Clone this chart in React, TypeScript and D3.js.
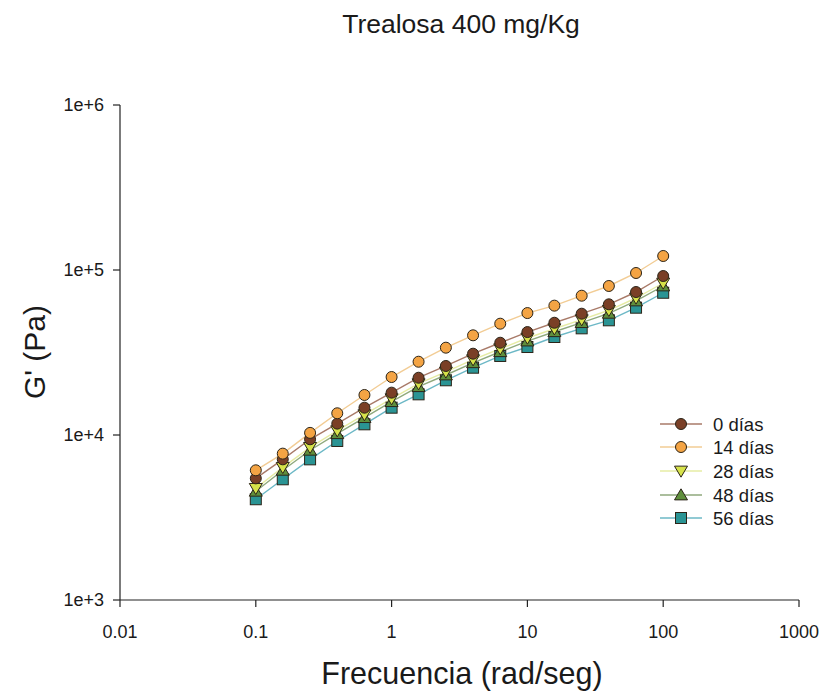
import React from "react";
import * as d3 from "d3";

const freqs = [0.1, 0.158, 0.251, 0.398, 0.631, 1, 1.58, 2.51, 3.98, 6.31, 10, 15.8, 25.1, 39.8, 63.1, 100];

const dias0 = [5460, 7120, 9420, 11720, 14640, 18060, 22240, 26200, 31100, 36240, 42060, 47900, 54350, 61950, 73560, 91950];
const dias14 = [6110, 7710, 10300, 13540, 17480, 22460, 27800, 33820, 40200, 47270, 54830, 60800, 69850, 80000, 95900, 121600];
const dias28 = [4750, 6370, 8420, 10620, 13280, 16600, 20460, 24100, 28600, 33330, 38700, 44060, 50000, 57000, 67650, 83400];
const dias48 = [4560, 6110, 8080, 10180, 12740, 15920, 19620, 23100, 27400, 31960, 37100, 42250, 47950, 54650, 64900, 80000];
const dias56 = [4080, 5390, 7120, 9200, 11610, 14640, 17640, 21460, 25580, 30130, 34140, 39260, 44310, 49560, 59100, 72800];

const seriesNames = ["0 días", "14 días", "28 días", "48 días", "56 días"];
const xTicks = [0.01, 0.1, 1, 10, 100, 1000];
const xTickLabels = ["0.01", "0.1", "1", "10", "100", "1000"];
const yTicks = [1e3, 1e4, 1e5, 1e6];
const yTickLabels = ["1e+3", "1e+4", "1e+5", "1e+6"];

const FONT = "'Liberation Sans', Arial, Helvetica, sans-serif";

type Shape = "circle" | "down" | "up" | "square";

const styles: { shape: Shape; fill: string; line: string }[] = [
  { shape: "circle", fill: "#7a3f26", line: "#a87a68" },
  { shape: "circle", fill: "#f4a444", line: "#f2cc94" },
  { shape: "down", fill: "#d6e24a", line: "#e6eca4" },
  { shape: "up", fill: "#5f8f3c", line: "#8fa97c" },
  { shape: "square", fill: "#2a9494", line: "#6cb8c6" },
];

function Marker({ shape, fill, x, y }: { shape: Shape; fill: string; x: number; y: number }) {
  const stroke = "#2b2418";
  const sw = 1;
  if (shape === "circle") return <circle cx={x} cy={y} r={5.5} fill={fill} stroke={stroke} strokeWidth={sw} />;
  if (shape === "square") return <rect x={x - 5.5} y={y - 5.5} width={11} height={11} fill={fill} stroke={stroke} strokeWidth={sw} />;
  const s = 6.5;
  const pts =
    shape === "down"
      ? [[x - s, y - s * 0.75], [x + s, y - s * 0.75], [x, y + s * 0.95]]
      : [[x - s, y + s * 0.75], [x + s, y + s * 0.75], [x, y - s * 0.95]];
  return <polygon points={pts.map((p) => p.join(",")).join(" ")} fill={fill} stroke={stroke} strokeWidth={sw} />;
}

export default function App() {
  const W = 826;
  const H = 696;
  const x = d3.scaleLog().domain([0.01, 1000]).range([120, 799]);
  const y = d3.scaleLog().domain([1e3, 1e6]).range([600, 105]);
  const data = [dias0, dias14, dias28, dias48, dias56];
  const line = d3
    .line<number>()
    .x((_, i) => x(freqs[i]))
    .y((d) => y(d));
  const drawOrder = [4, 3, 2, 0, 1];
  const legendY = [424, 447, 471, 495, 518];

  return (
    <svg width={W} height={H} style={{ display: "block", position: "absolute", left: 0, top: 0, background: "#fff" }}>
      <rect width={W} height={H} fill="#fff" />
      <text x={461} y={33} textAnchor="middle" fontFamily={FONT} fontSize={26.5} fill="#1a1a1a">
        Trealosa 400 mg/Kg
      </text>

      {/* axes */}
      <line x1={120} y1={105} x2={120} y2={600} stroke="#222" strokeWidth={1.2} />
      <line x1={120} y1={600} x2={799} y2={600} stroke="#222" strokeWidth={1.2} />
      {yTicks.map((t, i) => (
        <g key={"y" + i}>
          <line x1={113} x2={120} y1={y(t)} y2={y(t)} stroke="#222" strokeWidth={1.2} />
          <text x={104} y={y(t) + 6} textAnchor="end" fontFamily={FONT} fontSize={18} fill="#1a1a1a">
            {yTickLabels[i]}
          </text>
        </g>
      ))}
      {xTicks.map((t, i) => (
        <g key={"x" + i}>
          <line x1={x(t)} x2={x(t)} y1={600} y2={607} stroke="#222" strokeWidth={1.2} />
          <text x={x(t)} y={638} textAnchor="middle" fontFamily={FONT} fontSize={18} fill="#1a1a1a">
            {xTickLabels[i]}
          </text>
        </g>
      ))}
      <text x={462} y={684} textAnchor="middle" fontFamily={FONT} fontSize={30.5} fill="#1a1a1a">
        Frecuencia (rad/seg)
      </text>
      <text
        transform={`translate(45,352) rotate(-90)`}
        textAnchor="middle"
        fontFamily={FONT}
        fontSize={30}
        fill="#1a1a1a"
      >
        G' (Pa)
      </text>

      {/* lines */}
      {drawOrder.map((si) => (
        <path key={"l" + si} d={line(data[si]) || ""} fill="none" stroke={styles[si].line} strokeWidth={1.4} />
      ))}
      {/* markers */}
      {drawOrder.map((si) => (
        <g key={"m" + si}>
          {data[si].map((v, i) => (
            <Marker key={i} shape={styles[si].shape} fill={styles[si].fill} x={x(freqs[i])} y={y(v)} />
          ))}
        </g>
      ))}

      {/* legend */}
      {seriesNames.map((name, i) => (
        <g key={"lg" + i}>
          <line x1={660} x2={702} y1={legendY[i]} y2={legendY[i]} stroke={styles[i].line} strokeWidth={1.6} />
          <Marker shape={styles[i].shape} fill={styles[i].fill} x={681} y={legendY[i]} />
          <text x={713} y={legendY[i] + 6.5} fontFamily={FONT} fontSize={18.5} fill="#1a1a1a">
            {name}
          </text>
        </g>
      ))}
    </svg>
  );
}
